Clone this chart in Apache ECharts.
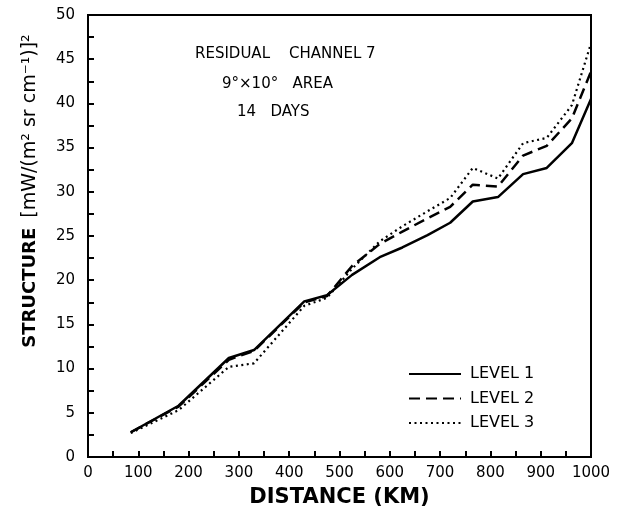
<!DOCTYPE html>
<html>
<head>
<meta charset="utf-8">
<script src="https://cdn.jsdelivr.net/npm/echarts@6/dist/echarts.min.js"></script>
<style>html,body{margin:0;padding:0;background:#fff}#c{width:624px;height:517px}</style>
</head>
<body>
<div id="c"></div>
<script>
var distance = [85, 180, 280, 330, 430, 475, 525, 580, 625, 675, 720, 765, 815, 865, 912, 962, 1000];
var level1 = [2.8, 5.8, 11.2, 12.1, 17.6, 18.3, 20.6, 22.6, 23.7, 25.1, 26.5, 28.9, 29.4, 32.0, 32.7, 35.5, 40.5];
var level2 = [2.8, 5.7, 11.0, 12.0, 17.5, 18.2, 21.6, 24.1, 25.5, 27.0, 28.3, 30.8, 30.6, 34.1, 35.2, 38.3, 43.6];
var level3 = [2.7, 5.3, 10.2, 10.6, 17.1, 18.0, 21.3, 24.4, 26.1, 27.8, 29.3, 32.7, 31.5, 35.5, 36.1, 39.8, 46.8];
var seriesNames = ['LEVEL 1', 'LEVEL 2', 'LEVEL 3'];
var annotation = ['RESIDUAL    CHANNEL 7', '9°×10°   AREA', '14   DAYS'];

function pairs(xs, ys) { return xs.map(function (x, i) { return [x, ys[i]]; }); }

var FONT = 'DejaVu Sans';
var chart = echarts.init(document.getElementById('c'), null, { renderer: 'canvas' });
var lineBase = { type: 'line', showSymbol: false, symbol: 'none', smooth: false, z: 3 };
chart.setOption({
  animation: false,
  backgroundColor: '#fff',
  grid: { left: 88, right: 33, top: 15, bottom: 60, show: true, borderColor: '#000', borderWidth: 2, backgroundColor: 'transparent' },
  xAxis: {
    type: 'value', min: 0, max: 1000, interval: 100,
    name: 'DISTANCE (KM)', nameLocation: 'middle', nameGap: 30,
    nameTextStyle: { fontFamily: FONT, fontWeight: 'bold', fontSize: 21, color: '#000' },
    axisLine: { show: true, onZero: false, lineStyle: { color: '#000', width: 2 } },
    axisTick: { show: true, inside: true, length: 6, lineStyle: { color: '#000', width: 2 } },
    minorTick: { show: true, splitNumber: 2, length: 6, lineStyle: { color: '#000', width: 2 } },
    axisLabel: { fontFamily: FONT, fontSize: 15, color: '#000', margin: 9, formatter: function (v) { return String(v); } },
    splitLine: { show: false }
  },
  yAxis: {
    type: 'value', min: 0, max: 50, interval: 5,
    axisLine: { show: true, onZero: false, lineStyle: { color: '#000', width: 2 } },
    axisTick: { show: true, inside: true, length: 6, lineStyle: { color: '#000', width: 2 } },
    minorTick: { show: true, splitNumber: 2, length: 6, lineStyle: { color: '#000', width: 2 } },
    axisLabel: { fontFamily: FONT, fontSize: 15, color: '#000', margin: 13 },
    splitLine: { show: false }
  },
  legend: {
    orient: 'vertical', left: 403, top: 361, itemWidth: 52, itemHeight: 14, itemGap: 8.5,
    itemStyle: { opacity: 0 },
    textStyle: { fontFamily: FONT, fontSize: 16, color: '#000', padding: [0, 0, 0, 4] },
    data: seriesNames
  },
  graphic: [
    { type: 'text', x: 195, y: 54, style: { text: annotation[0], fontFamily: FONT, fontSize: 15, fill: '#000', textVerticalAlign: 'middle' } },
    { type: 'text', x: 222, y: 84, style: { text: annotation[1], fontFamily: FONT, fontSize: 15, fill: '#000', textVerticalAlign: 'middle' } },
    { type: 'text', x: 237, y: 112, style: { text: annotation[2], fontFamily: FONT, fontSize: 15, fill: '#000', textVerticalAlign: 'middle' } },
    { type: 'text', x: 30, y: 191, rotation: Math.PI / 2,
      style: { text: '{b|STRUCTURE}   {n|[mW/(m² sr cm⁻¹)]²}', textAlign: 'center', textVerticalAlign: 'middle',
        rich: { b: { fontFamily: FONT, fontWeight: 'bold', fontSize: 18, fill: '#000' },
                n: { fontFamily: FONT, fontSize: 19, fill: '#000' } } } }
  ],
  series: [
    Object.assign({}, lineBase, { name: seriesNames[0], data: pairs(distance, level1), lineStyle: { color: '#000', width: 2.5, type: 'solid' }, itemStyle: { color: '#000' } }),
    Object.assign({}, lineBase, { name: seriesNames[1], data: pairs(distance, level2), lineStyle: { color: '#000', width: 2.5, type: [11, 6] }, itemStyle: { color: '#000' } }),
    Object.assign({}, lineBase, { name: seriesNames[2], data: pairs(distance, level3), lineStyle: { color: '#000', width: 2.2, type: [2, 3.5] }, itemStyle: { color: '#000' } })
  ]
});
</script>
</body>
</html>
